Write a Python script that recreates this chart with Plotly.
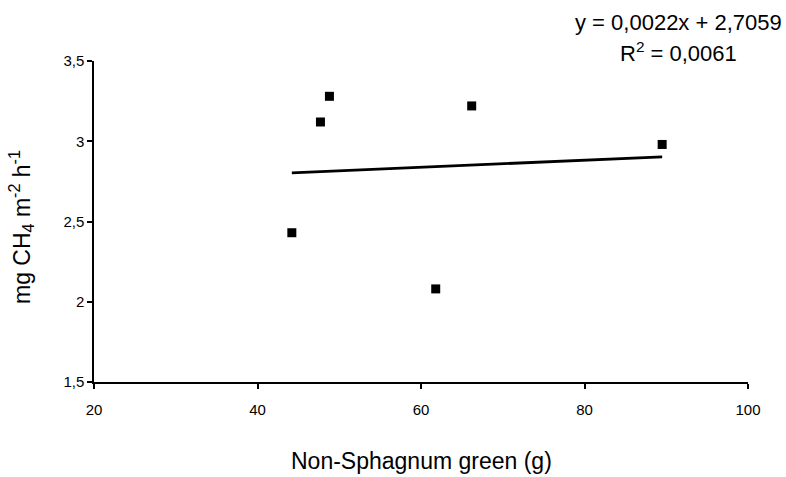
import plotly.graph_objects as go

# Data
x_vals = [44.2, 47.7, 48.8, 61.8, 66.2, 89.5]
y_vals = [2.43, 3.12, 3.28, 2.08, 3.22, 2.98]

# Linear trendline from the displayed equation
slope = 0.0022
intercept = 2.7059
r2 = 0.0061

x_ticks = [20, 40, 60, 80, 100]
y_ticks = [1.5, 2.0, 2.5, 3.0, 3.5]
y_tick_text = ["1,5", "2", "2,5", "3", "3,5"]

FONT = "Arial, Liberation Sans, sans-serif"

x_line = [min(x_vals), max(x_vals)]
y_line = [slope * v + intercept for v in x_line]

fig = go.Figure()
fig.add_trace(go.Scatter(
    x=x_vals, y=y_vals, mode="markers",
    marker=dict(symbol="square", size=9, color="black"),
    showlegend=False, hoverinfo="x+y",
))
fig.add_trace(go.Scatter(
    x=x_line, y=y_line, mode="lines",
    line=dict(color="black", width=2.8),
    showlegend=False,
))

L, R, T, B = 94, 38, 61, 95
W, H = 786, 477
pw, ph = W - L - R, H - T - B

def px(xp):
    return (xp - L) / pw

def py(yp):
    return (H - B - yp) / ph

fig.update_layout(
    width=W, height=H,
    margin=dict(l=L, r=R, t=T, b=B, pad=0),
    paper_bgcolor="white", plot_bgcolor="white",
    font=dict(family=FONT, color="black", size=15),
    xaxis=dict(
        range=[20, 100], tickvals=x_ticks, ticktext=[str(v) for v in x_ticks],
        showline=True, linecolor="black", linewidth=1.5,
        ticks="outside", ticklen=5, tickwidth=1.5, tickcolor="black",
        showgrid=False, zeroline=False, tickfont=dict(size=15),
        ticklabelstandoff=8,
    ),
    yaxis=dict(
        range=[1.5, 3.5], tickvals=y_ticks, ticktext=y_tick_text,
        showline=True, linecolor="black", linewidth=1.5,
        ticks="outside", ticklen=5, tickwidth=1.5, tickcolor="black",
        showgrid=False, zeroline=False, tickfont=dict(size=15),
    ),
    annotations=[
        dict(text="y = 0,0022x + 2,7059", xref="paper", yref="paper",
             x=px(678), y=py(22), showarrow=False, xanchor="center", yanchor="middle",
             font=dict(size=22)),
        dict(text="R<sup>2</sup> = 0,0061", xref="paper", yref="paper",
             x=px(678), y=py(52), showarrow=False, xanchor="center", yanchor="middle",
             font=dict(size=22)),
        dict(text="Non-Sphagnum green (g)", xref="paper", yref="paper",
             x=px(422), y=py(461), showarrow=False, xanchor="center", yanchor="middle",
             font=dict(size=23)),
        dict(text="mg CH<sub>4</sub> m<sup>-2</sup> h<sup>-1</sup>", xref="paper", yref="paper",
             x=px(21), y=py(227), showarrow=False, xanchor="center", yanchor="middle",
             textangle=-90, font=dict(size=23)),
    ],
)

fig.write_html(
    "out.html",
    config={"displayModeBar": False},
    post_script="document.body.style.margin='0';document.body.style.padding='0';document.body.style.overflow='hidden';",
)
